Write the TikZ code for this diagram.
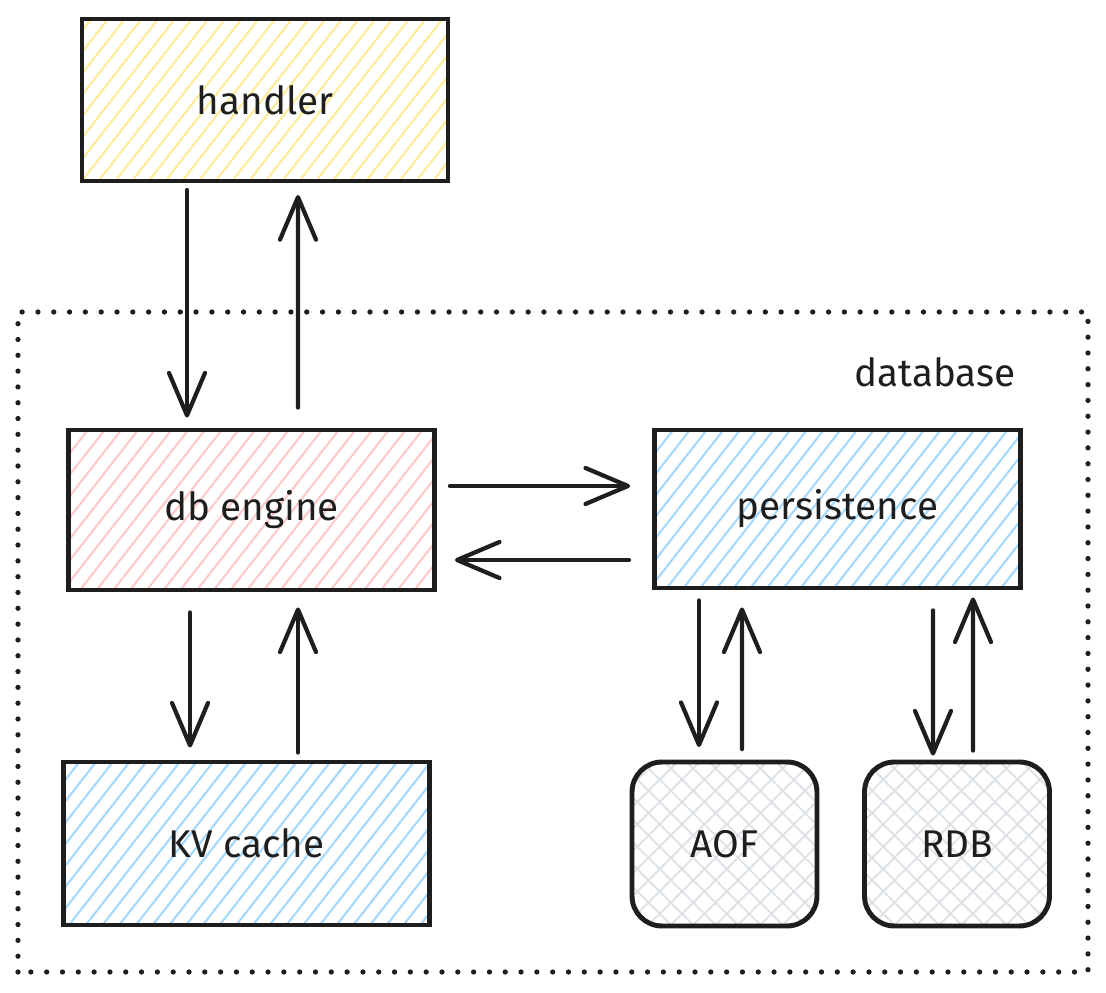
\documentclass[tikz,border=0pt]{standalone}
\usepackage{fontspec}
\setmainfont{Fira Sans}
\usetikzlibrary{arrows.meta,patterns.meta,calc}
\begin{document}
\begin{tikzpicture}[x=0.02cm,y=0.02cm,
  block/.style={draw=ink, line width=2.8pt, minimum width=7.32cm, minimum height=3.24cm, font=\fontsize{22}{26}\selectfont, text=ink},
  hatched/.style={pattern={Lines[angle=52,distance=7.5pt,line width=1.2pt]}, pattern color=#1},
  store/.style={block, minimum width=3.7cm, minimum height=3.28cm, rounded corners=0.6cm, pattern={Hatch[angle=45,distance=9pt,line width=1.1pt]}, pattern color=store gray},
  link/.style={draw=ink, line width=2.4pt, line cap=round, -{Straight Barb[length=0.85cm,width=0.72cm,round]}}]
\definecolor{ink}{HTML}{1E1E1E}
\definecolor{handler yellow}{HTML}{FFEC99}
\definecolor{engine red}{HTML}{FFC9C9}
\definecolor{cache blue}{HTML}{A5D8FF}
\definecolor{store gray}{HTML}{DEE2E6}
\useasboundingbox (0,0) rectangle (1106,992);

% database frame
\draw[ink, line width=3pt, line cap=round, dash pattern=on 0pt off 9pt] (18,20) rectangle (1088,680);
\node[text=ink, font=\fontsize{22}{26}\selectfont] (dblabel) at (935,620) {database};

% blocks
\node[block, hatched=handler yellow] (handler) at (265,892) {handler};
\node[block, hatched=engine red, minimum height=3.2cm] (engine) at (251.5,482) {db engine};
\node[block, hatched=cache blue, minimum height=3.16cm] (persist) at (837.5,483) {persistence};
\node[block, hatched=cache blue, minimum height=3.26cm] (cache) at (246.5,148.5) {KV cache};
\node[store] (aof) at (724.5,148) {AOF};
\node[store] (rdb) at (957,148) {RDB};

% handler <-> engine
\draw[link] ($(handler.south)+(-78,-8)$) -- ($(engine.north)+(-64.5,10)$);
\draw[link] ($(engine.north)+(46.5,20)$) -- ($(handler.south)+(33,-13)$);
% engine <-> persistence
\draw[link] ($(engine.east)+(13,24)$) -- ($(persist.west)+(-22,23)$);
\draw[link] ($(persist.west)+(-23,-51)$) -- ($(engine.east)+(18,-50)$);
% engine <-> cache
\draw[link] ($(engine.south)+(-61.5,-20)$) -- ($(cache.north)+(-56.5,12)$);
\draw[link] ($(cache.north)+(51.5,7)$) -- ($(engine.south)+(46.5,-15)$);
% persistence <-> stores
\draw[link] ($(persist.south)+(-138.5,-10)$) -- ($(aof.north)+(-25.5,14)$);
\draw[link] ($(aof.north)+(17.5,12)$) -- ($(persist.south)+(-95.5,-17)$);
\draw[link] ($(persist.south)+(95.5,-20)$) -- ($(rdb.north)+(-24,4)$);
\draw[link] ($(rdb.north)+(16,9)$) -- ($(persist.south)+(135.5,-7)$);
\end{tikzpicture}
\end{document}
